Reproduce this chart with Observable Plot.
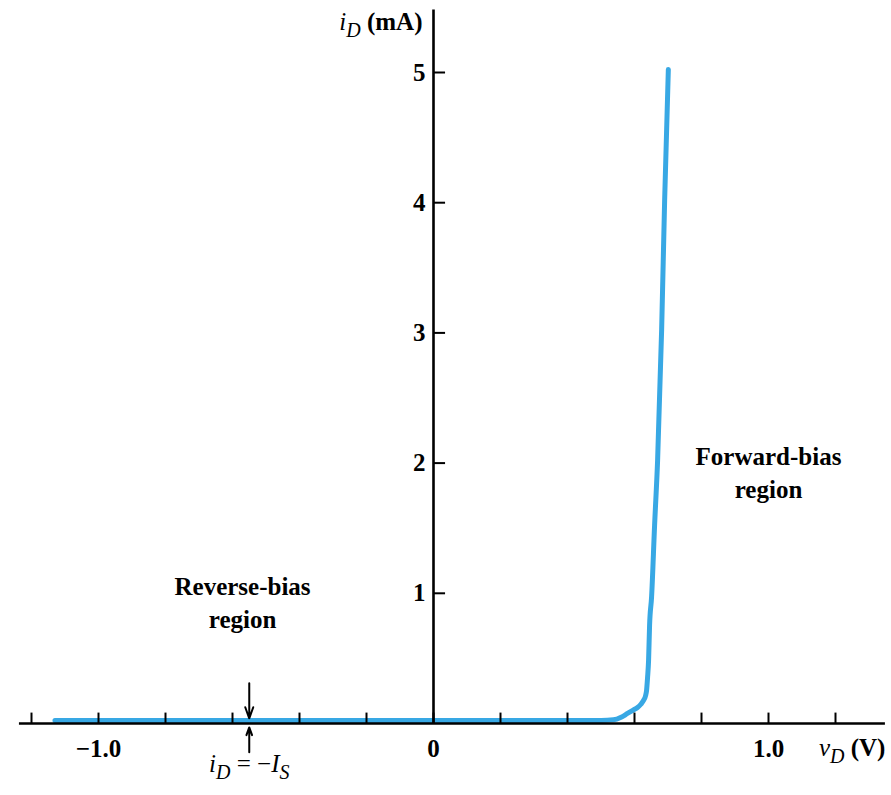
<!DOCTYPE html>
<html><head><meta charset="utf-8">
<script src="https://cdn.jsdelivr.net/npm/d3@7"></script>
<script src="https://cdn.jsdelivr.net/npm/@observablehq/plot@0.6"></script>
<style>body{margin:0;background:#fff} svg{display:block}</style>
</head><body><div id="chart"></div>
<script>
// diode i-v characteristic
const vD = [-1.13, -0.5, 0, 0.5, 0.537, 0.56, 0.579, 0.596, 0.609, 0.619, 0.627, 0.633, 0.636, 0.639, 0.642, 0.645, 0.651, 0.660, 0.669, 0.681, 0.690, 0.701];
const iD = [0, 0, 0, 0, 0.005, 0.025, 0.054, 0.08, 0.10, 0.125, 0.154, 0.19, 0.23, 0.33, 0.46, 0.73, 0.95, 1.5, 2, 3, 4, 5.0];
const xTicks = [-1.2, -1.0, -0.8, -0.6, -0.4, -0.2, 0, 0.2, 0.4, 0.6, 0.8, 1.0, 1.2];
const xTickValues = [-1.0, 0, 1.0];
const xTickLabels = ["−1.0", "0", "1.0"];
const yTicks = [1, 2, 3, 4, 5];
const xAxisExtent = [-1.236, 1.349];
const yAxisTop = 5.48;
const isMarker = -0.55;
const regionLabels = [
  {x: -0.57, y: 0.94, text: "Reverse-bias\nregion"},
  {x: 1.0, y: 1.94, text: "Forward-bias\nregion"}
];

const data = vD.map((v, i) => ({v, i: iD[i]}));
const serif = "'Liberation Serif', 'Times New Roman', Tinos, 'Nimbus Roman', 'DejaVu Serif', 'Noto Serif', serif";
const blue = "#38a8e4";

const plot = Plot.plot({
  width: 891, height: 795,
  marginTop: 0, marginRight: 0, marginBottom: 0, marginLeft: 0,
  style: {fontFamily: serif, background: "white"},
  x: {domain: [-433/335, 458/335], range: [0, 891], axis: null},
  y: {domain: [0, 5], range: [723, 72], axis: null},
  marks: [
    Plot.line(data, {x: "v", y: "i", stroke: blue, strokeWidth: 5, dy: -3, strokeLinejoin: "round", curve: "monotone-x"}),
    Plot.ruleY([0], {x1: xAxisExtent[0], x2: xAxisExtent[1], stroke: "black", strokeWidth: 2.6}),
    Plot.ruleX([0], {y1: 0, y2: yAxisTop, stroke: "black", strokeWidth: 2.6}),
    Plot.ruleX(xTicks, {x: d => d, y1: 0, y2: 0.08, stroke: "black", strokeWidth: 2}),
    Plot.ruleY(yTicks, {y: d => d, x1: 0, x2: 0.036, stroke: "black", strokeWidth: 2}),
    Plot.text(xTickValues, {x: d => d, y: 0, dy: 25, text: (d, i) => xTickLabels[i], fontFamily: serif, fontSize: 25, fontWeight: "bold", fill: "black"}),
    Plot.text(yTicks, {x: 0, y: d => d, dx: -8, text: d => String(d), textAnchor: "end", fontFamily: serif, fontSize: 25, fontWeight: "bold", fill: "black"}),
    Plot.text(["iD (mA)"], {x: 0, y: yAxisTop, dx: -11, dy: 12, text: d => d, textAnchor: "end", fontFamily: serif, fontSize: 25, fontWeight: "bold", fill: "black"}),
    Plot.text(["vD (V)"], {x: xAxisExtent[1], y: 0, dy: 24, text: d => d, textAnchor: "end", fontFamily: serif, fontSize: 25, fontWeight: "bold", fill: "black"}),
    Plot.text(["iD = −IS"], {x: isMarker, y: 0, dy: 40, text: d => d, fontFamily: serif, fontSize: 25, fontWeight: "bold", fill: "black"}),
    Plot.text(regionLabels, {x: "x", y: "y", text: "text", lineHeight: 1.3, fontFamily: serif, fontSize: 25, fontWeight: "bold", fill: "black"}),
    Plot.arrow([isMarker], {x1: d => d, x2: d => d, y1: 0.31, y2: 0.04, stroke: "black", strokeWidth: 2, headLength: 12, headAngle: 40}),
    Plot.arrow([isMarker], {x1: d => d, x2: d => d, y1: -0.22, y2: -0.03, stroke: "black", strokeWidth: 2, headLength: 12, headAngle: 40})
  ]
});
document.getElementById("chart").appendChild(plot);

// rich text: italic variables and subscripts
const rich = [
  {key: "iD (mA)", segs: [["i", "it"], ["D", "it sub"], [" (mA)", ""]]},
  {key: "vD (V)", segs: [["v", "it"], ["D", "it sub"], [" (V)", ""]]},
  {key: "iD = −IS", segs: [["i", "it"], ["D", "it sub"], [" = −", "plain"], ["I", "it"], ["S", "it sub"]]}
];
d3.select(plot).selectAll("text").each(function() {
  const r = rich.find(r => r.key === this.textContent);
  if (!r) return;
  this.textContent = "";
  let shift = 0;
  for (const [t, s] of r.segs) {
    const ts = d3.select(this).append("tspan").text(t);
    if (s.includes("it")) ts.attr("font-style", "italic").attr("font-weight", "normal");
    if (s.includes("plain")) ts.attr("font-weight", "normal");
    const sub = s.includes("sub");
    if (sub) ts.style("font-size", "0.8em");
    const target = sub ? 7 : 0;
    if (target !== shift) { ts.attr("dy", target - shift); shift = target; }
  }
});
</script></body></html>
